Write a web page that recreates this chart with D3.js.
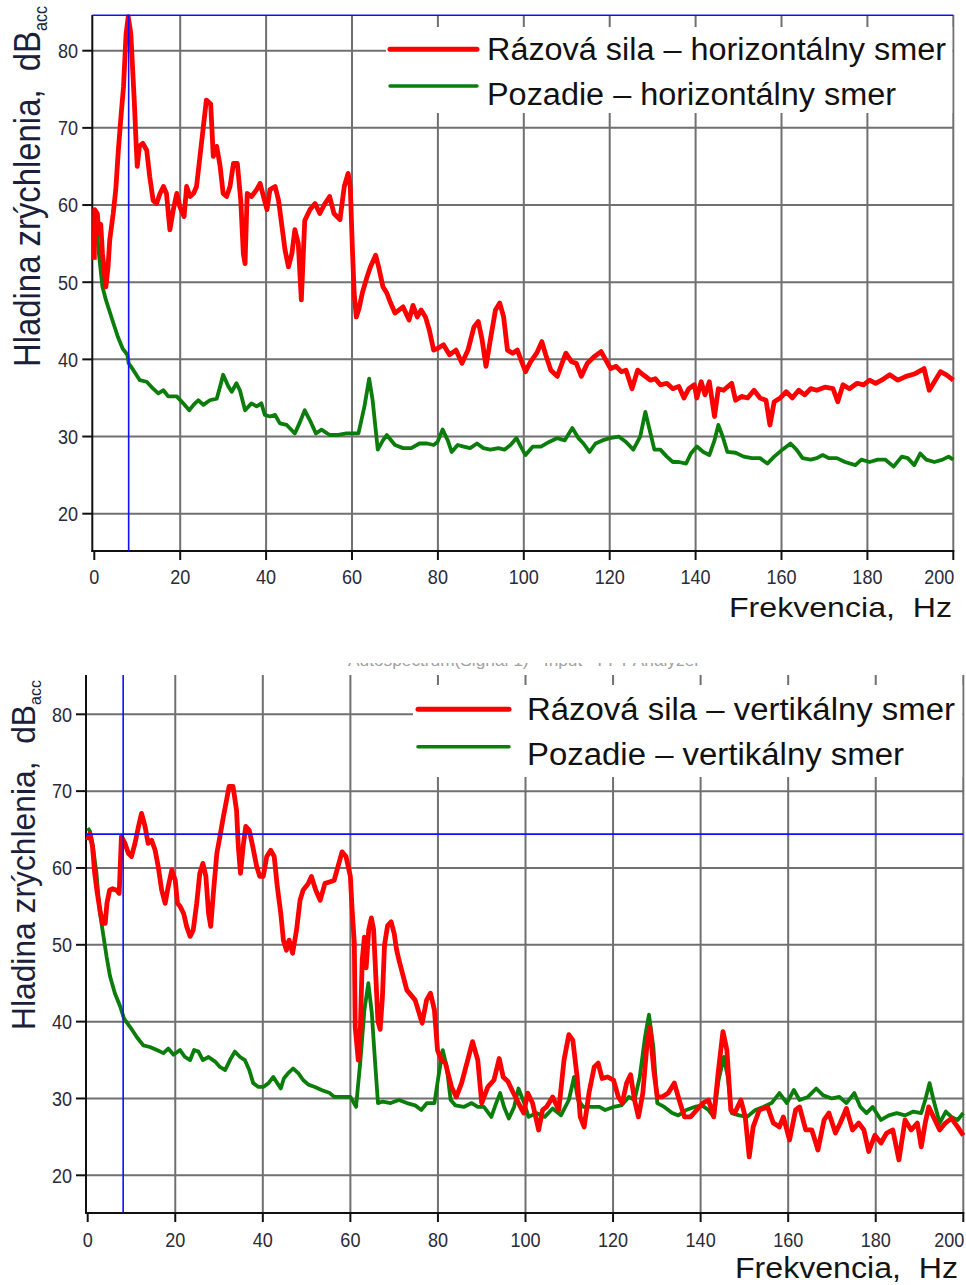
<!DOCTYPE html>
<html>
<head>
<meta charset="utf-8">
<script src="https://cdn.jsdelivr.net/npm/d3@7"></script>
<style>
  html, body { margin: 0; padding: 0; background: #fff; }
  svg { display: block; font-family: "Liberation Sans", Arial, sans-serif; }
</style>
</head>
<body>
<svg id="chart" width="966" height="1285"></svg>
<script>
// tick values and labels
const freqTicks = [0, 20, 40, 60, 80, 100, 120, 140, 160, 180, 200];
const dbTicks = [20, 30, 40, 50, 60, 70, 80];
const legendTop = ['Rázová sila – horizontálny smer', 'Pozadie – horizontálny smer'];
const legendBottom = ['Rázová sila – vertikálny smer', 'Pozadie – vertikálny smer'];
const xTitle = 'Frekvencia,  Hz';
const yTitle = 'Hladina zrýchlenia,  dB';
const yTitleSub = 'acc';
const faintTitle = 'Autospectrum(Signal 1) - Input - FFT Analyzer';

// cursor [Hz, dB]
const cursorTop = [8.0, 84.6];
const cursorBottom = [8.1, 64.4];

// [Hz, dB]
const razovaH = [[0,52.9],[0.1,59.4],[0.7,58.9],[1.1,56.3],[1.5,57.5],[1.9,53.7],[2.7,49.4],[3.2,52],[3.6,55.5],[4.4,58.9],[5.0,62],[5.6,67.1],[6.2,71.4],[6.8,75.3],[7.4,82.2],[7.9,84.4],[8.5,82.2],[8.9,77.9],[9.3,73.6],[9.7,68.4],[10.0,65],[10.5,67.6],[11.3,68],[12.2,67.1],[12.9,63.7],[13.7,60.6],[14.5,60.2],[15.3,61.5],[16.1,62.4],[16.8,61.5],[17.6,56.8],[18.4,59.4],[19.2,61.5],[19.9,59.8],[20.9,58.5],[21.5,62.4],[22.3,61.1],[23.1,61.5],[23.8,62.4],[24.6,66.3],[25.4,70.2],[26.1,73.6],[27.1,73.1],[27.7,66.3],[28.5,67.6],[29.3,65],[30.0,61.5],[30.8,61.1],[31.6,62.4],[32.4,65.4],[33.3,65.4],[34.1,60.6],[34.7,53.7],[35.1,52.4],[35.6,61.5],[36.6,61.1],[37.8,62],[38.6,62.8],[39.4,61.1],[40.2,59.4],[40.9,62],[42.1,62.4],[42.9,60.6],[43.7,57.2],[44.4,54.2],[45.2,52],[46.0,53.7],[46.7,56.8],[47.5,55],[48.2,47.7],[49.0,58],[50.2,59.4],[51.4,60.2],[52.5,58.9],[53.7,60.2],[54.8,61.1],[55.8,58.9],[57.2,58.1],[58.2,62.4],[59.1,64.1],[59.6,62.4],[60.1,54.2],[60.5,48.6],[61.0,45.5],[61.6,46.5],[62.4,48.6],[63.4,50.5],[64.3,52],[65.5,53.5],[66.2,52],[67.2,49.4],[68.1,48.6],[69,47.3],[70,46],[71.9,46.8],[73.3,45.1],[74.2,47],[75.2,45.5],[76.1,46.4],[77.1,45.5],[78,43.8],[79,41.2],[79.9,41.4],[81.3,41.9],[82.7,40.6],[84.2,41.2],[85.6,39.5],[87,41.2],[88.4,44.2],[89.4,44.9],[90.3,42.5],[91.2,39.1],[92.2,42.5],[93.4,46.4],[94.4,47.3],[95.3,45.5],[96.2,41.2],[97.4,40.8],[98.5,41.2],[99.5,39.7],[100.4,38.4],[101.6,39.7],[103.0,40.8],[104.2,42.3],[105.1,40.6],[106.3,38.6],[107.8,37.8],[108.9,39.5],[109.8,40.8],[111.1,39.7],[112.2,39.5],[113.4,37.8],[114.8,39.5],[116.3,40.3],[118,41],[119.1,39.9],[120.2,38.8],[121.5,39.1],[122.7,38.4],[123.8,38.6],[125.2,36.2],[126.5,38.6],[127.8,38],[129.5,37.3],[130.6,37.5],[131.8,36.7],[133.3,36.9],[134.7,36.2],[136.1,36.5],[137.3,35],[138.4,36.2],[139.7,36.7],[140.3,35],[141.3,37.1],[142.2,35.4],[143.2,37.1],[144.4,32.6],[145.3,36.2],[146.5,36],[148.4,36.9],[149.3,34.7],[150.7,35.2],[152.1,35],[153.6,36],[155,35],[156.4,34.7],[157.3,31.5],[158.3,34.5],[159.7,35],[161.1,35.8],[162.5,35],[164,36],[165.4,35.4],[166.8,36.2],[168.2,36],[170.1,36.4],[172,36.2],[173.1,34.5],[174.3,36.7],[175.8,36.2],[177.6,36.9],[179.1,36.7],[180.5,37.3],[181.9,36.9],[183.3,37.3],[185.2,38],[187.1,37.3],[189,37.8],[190.9,38.1],[193.2,38.8],[194.4,36],[195.6,37.1],[197,38.4],[198.4,38],[200,37.3]];

const pozadieH = [[0,58.5],[0.5,57],[1.2,53],[1.9,49.4],[2.7,47.7],[4.2,45.1],[5.5,42.9],[6.6,41.4],[7.7,40.6],[8.0,39.5],[9.1,38.6],[10.6,37.3],[12.2,37.1],[13.7,36.2],[14.9,35.6],[16.1,36],[17.2,35.2],[19.2,35.2],[20.7,34.3],[22.1,33.4],[23.1,34.1],[24.2,34.7],[25.4,34.1],[26.9,34.7],[28.5,34.9],[29.3,36.5],[30.0,38],[31.2,36.5],[32,35.8],[33.1,36.9],[33.9,36],[35.1,33.4],[36.6,34.3],[37.8,33.9],[38.9,34.3],[39.7,32.8],[40.9,32.6],[42.1,32.8],[43.2,31.7],[44.8,31.5],[46.7,30.4],[47.9,31.9],[49,33.4],[50.2,32.1],[51.6,30.4],[52.9,30.9],[54.8,30.2],[56.8,30.2],[58.7,30.4],[61.5,30.4],[62.9,33.9],[64.0,37.5],[64.8,34.7],[66,28.3],[67.2,29.5],[68.1,30.2],[70,28.9],[71.9,28.5],[73.8,28.5],[75.7,29.1],[77.5,29.1],[79,28.9],[79.9,29.3],[81.1,30.9],[82.3,29.5],[83.2,28],[84.6,28.9],[86,28.7],[87.5,28.5],[89.1,29.1],[90.6,28.5],[92.2,28.3],[94.1,28.5],[95.5,28.3],[96.9,28.9],[98.3,29.8],[99.3,28.7],[100.4,27.6],[102.1,28.7],[104,28.7],[105.9,29.3],[107.8,29.8],[109.5,29.5],[111.3,31.1],[112.7,29.8],[113.9,29.1],[115.3,28],[116.7,29.1],[118.3,29.5],[120,29.8],[122.1,30],[123.8,29.3],[125.5,28.3],[127.1,30],[128.3,33.2],[129.5,30.4],[130.4,28.3],[131.8,28.3],[133.3,27.4],[134.7,26.7],[136.1,26.7],[137.8,26.5],[138.9,27.8],[140.3,28.7],[141.8,28],[143.2,27.6],[144.4,29.5],[145.3,31.5],[146.3,30],[147.4,28],[149.3,27.9],[151.2,27.4],[153.1,27.2],[155,27.2],[156.7,26.5],[158.3,27.4],[160.2,28.3],[162.1,29.1],[163.5,28.3],[164.9,27.2],[166.8,27],[168.2,27.2],[169.6,27.6],[171,27.2],[172.9,27.2],[174.8,26.7],[177.2,26.3],[178.6,27],[180.5,26.7],[182.4,27],[184.2,27],[186.1,26.1],[188,27.4],[189.4,27.2],[190.9,26.3],[192.3,27.8],[193.7,27],[195.6,26.7],[197.5,27],[198.9,27.4],[200,27]];

const razovaV = [[0,63.6],[0.5,64.5],[1.1,62.8],[1.6,59.3],[2.2,56.7],[2.8,54.5],[3.4,52.8],[4.0,52.8],[4.4,55.4],[5.0,57.1],[5.7,57.3],[6.6,57.1],[7.2,56.7],[7.7,64.1],[8.5,63.2],[9.3,61.9],[10.0,61.5],[10.8,63.2],[11.6,65.4],[12.3,67.1],[13.1,65.4],[13.8,63.2],[14.6,63.6],[15.4,62.3],[16.1,60.2],[16.9,57.1],[17.7,55.4],[18.4,57.6],[19.2,59.7],[20.0,58.4],[20.5,55.4],[21.1,55],[21.9,54.1],[22.6,52.4],[23.4,51.1],[24.1,51.9],[24.9,55.4],[25.6,59.3],[26.3,60.6],[27.0,58.9],[27.6,54.1],[28.1,52.4],[28.7,56.7],[29.5,61.9],[30.2,64.1],[31.0,66.7],[31.7,68.8],[32.3,70.6],[33.2,70.6],[34.0,67.5],[34.4,62.8],[34.9,59.3],[35.5,62.8],[36.1,65.4],[36.9,64.9],[37.7,62.8],[38.6,60.2],[39.3,58.9],[40.1,58.9],[40.9,61.5],[41.8,62.3],[42.6,61.5],[43.3,57.6],[44.1,54.1],[44.7,50.6],[45.4,49.3],[46.0,50.6],[46.8,48.9],[47.7,51.9],[48.5,55.8],[49.2,57.1],[50.4,58],[51.1,58.9],[52.1,57.1],[53.1,55.8],[54.2,58],[55.4,58.2],[56.3,58.4],[58.1,62.1],[59,61.5],[60,58.9],[60.4,54.5],[60.9,50.2],[61.1,39.3],[61.8,35],[62.3,39.3],[62.7,48],[63.2,51],[63.6,47],[64.2,52],[64.8,53.5],[65.3,52],[65.8,46],[66.3,40],[66.8,39],[67.3,43],[67.8,50],[68.5,52.5],[69.3,53],[70,51.5],[70.5,49.5],[71.1,48],[72.9,44.1],[74.8,42.8],[76.4,39.8],[77.4,42.8],[78.3,43.7],[79.2,41.5],[79.9,36.3],[80.8,35],[81.7,34.6],[83.1,31.5],[84.2,30.2],[85.4,32],[86.8,35],[87.9,37.4],[89.1,35],[90.0,29.4],[91.4,31.5],[92.8,32.4],[94,35.2],[94.9,32.8],[96.0,32.2],[96.9,31.1],[98.4,29.4],[99.6,28.1],[100.5,30.7],[101.6,29.4],[103,25.9],[103.9,28.5],[104.8,28.9],[106.2,30.2],[107.6,28.5],[108.8,35],[109.9,38.3],[110.8,37.6],[111.8,32.8],[112.5,27.6],[113.4,26.3],[114.5,30.7],[115.7,34.1],[116.6,34.6],[117.5,32.6],[118.7,32.8],[120.1,32.4],[121.2,30.2],[122.1,29.4],[123.1,32],[124,33.1],[124.9,29.8],[125.8,27.6],[126.8,30.7],[127.7,36.7],[128.4,39.3],[129.3,33.7],[130.1,30.2],[131.2,30.2],[132.6,30.7],[134,32],[135.1,29.8],[136.3,27.6],[137.7,27.6],[139.1,28.5],[140.5,29.4],[141.8,29.8],[143.0,27.6],[144.0,33.3],[145.1,38.7],[146,36.3],[146.9,28.5],[147.8,28.1],[149.2,29.8],[150.2,27.6],[151.1,22.4],[152,26.3],[153.4,28.5],[155.3,28.9],[156.6,26.8],[158,26.3],[158.9,27.6],[160.3,24.6],[161.7,28.5],[162.6,28.9],[164,25.9],[165.4,25.9],[166.8,23.3],[168.2,27.2],[169.3,28.1],[170.8,25.5],[171.9,26.8],[173.3,28.7],[174.7,25.9],[176.1,26.8],[177.3,25.9],[178.4,23.1],[179.8,25.2],[181.2,24.2],[182.5,25.5],[183.9,25.9],[185.3,22],[186.7,27.2],[188.1,25.9],[189.5,26.8],[190.4,23.7],[191.3,26.8],[192.1,28.9],[193.2,27.6],[194.6,25.9],[195.9,26.8],[197.3,27.4],[198.7,26.3],[200,25.2]];

const pozadieV = [[0,65.2],[0.5,64.8],[1.2,62.8],[2,59.3],[2.8,54.1],[3.5,51.5],[4.3,48.5],[5.1,45.9],[6.2,43.7],[7.4,42],[8.3,40.4],[9.7,39.3],[11.2,38],[12.7,36.9],[14.2,36.7],[15.8,36.3],[17.3,35.9],[18.4,36.5],[19.6,35.7],[21.1,36.3],[22.2,35.4],[23.4,35],[24.3,36.3],[25.3,36.1],[26.3,35],[27.6,35.4],[29.1,34.8],[30.2,34.1],[31.4,33.7],[32.5,35],[33.6,36.1],[34.8,35.4],[35.9,35],[36.9,33.7],[37.8,32],[39.0,31.5],[40.1,31.5],[41.3,32],[42.4,32.8],[43.3,32],[44.1,31.3],[44.8,32.6],[45.8,33.3],[46.9,33.9],[48.1,33.3],[49.2,32.4],[50.4,31.8],[51.9,31.5],[53.4,31.1],[55.3,30.7],[56.3,30.2],[58.1,30.2],[60,30.2],[61.3,28.9],[62.3,35],[63.2,41.5],[64.1,45],[64.9,41.1],[65.5,35.9],[66.3,29.4],[67.4,29.6],[69.2,29.4],[71.1,29.8],[72.9,29.4],[74.8,29.1],[76.2,28.5],[77.5,29.4],[79.2,29.4],[80.1,32.8],[81.1,36.3],[82,34.1],[82.9,29.8],[84,29.1],[85.9,28.9],[87.7,29.4],[89.1,28.9],[90.5,28.9],[92.2,27.6],[93.3,29.4],[94.2,30.7],[95.1,28.9],[96.2,27.4],[97.4,28.9],[98.4,31.3],[99.7,29.4],[100.7,27.6],[102.5,28.1],[104.4,27.6],[106.2,28.7],[108.1,27.8],[109.9,29.8],[111.1,32.8],[112,29.8],[113.2,28.9],[115,28.9],[116.9,28.9],[118.2,28.5],[120.1,28.9],[121.9,29.1],[123.6,30.2],[124.9,29.8],[126.1,32.8],[127.3,38],[128.2,40.9],[129.2,36.7],[130.1,29.4],[131.7,28.9],[133.5,28.1],[134.9,27.8],[136.7,28.5],[138.6,28.9],[140.3,29.1],[141.8,28.5],[143,27.6],[144.1,32.4],[145.3,35.4],[146.2,32.8],[147.1,28.1],[148.8,27.8],[150.6,27.6],[152.5,28.5],[154.3,28.9],[156.2,29.4],[158,30.7],[159.7,29.4],[161.3,31.1],[162.6,29.8],[164.5,30.2],[166.4,31.3],[168,30.4],[170,30],[171.7,30.2],[173.3,29.4],[175.1,30.7],[176.5,28.9],[177.9,28.1],[179.3,28.9],[181.2,27.2],[183,27.8],[184.8,28.1],[186.7,27.8],[188.6,28.3],[190.4,28.1],[191.3,29.8],[192.3,32],[193.2,29.8],[194.6,26.8],[196,28.3],[197.3,27.6],[198.7,27.2],[200,28.1]];

const RED = '#ff0000';
const GREEN = '#0b7d0b';
const BLUE = '#1010ff';
const GRID = '#707070';

const svg = d3.select('svg#chart');

function drawChart(c) {
  const x = d3.scaleLinear().domain([0, 200]).range([c.x0, c.x200]);
  const y = d3.scaleLinear().domain([20, 80]).range([c.y20, c.y80]);
  const g = svg.append('g');

  // grid
  g.selectAll('line.vgrid')
    .data(freqTicks.filter(d => d > 0))
    .join('line')
    .attr('x1', d => x(d)).attr('x2', d => x(d))
    .attr('y1', c.top).attr('y2', c.bottom)
    .attr('stroke', GRID).attr('stroke-width', 2);

  g.selectAll('line.hgrid')
    .data(dbTicks)
    .join('line')
    .attr('x1', c.left).attr('x2', x(200))
    .attr('y1', d => y(d)).attr('y2', d => y(d))
    .attr('stroke', GRID).attr('stroke-width', 2);

  // legend box hides the grid behind it, the right border stays
  g.append('rect')
    .attr('x', c.legend.box[0]).attr('y', c.legend.box[1])
    .attr('width', x(200) - 1 - c.legend.box[0])
    .attr('height', c.legend.box[2] - c.legend.box[1])
    .attr('fill', '#fff');

  // axes
  g.append('line')
    .attr('x1', c.left).attr('x2', c.left)
    .attr('y1', c.top).attr('y2', c.bottom + 1)
    .attr('stroke', '#111').attr('stroke-width', 2);
  g.append('line')
    .attr('x1', c.left - 1).attr('x2', x(200) + 1)
    .attr('y1', c.bottom).attr('y2', c.bottom)
    .attr('stroke', '#111').attr('stroke-width', 2);

  g.selectAll('line.ytick')
    .data(dbTicks)
    .join('line')
    .attr('x1', c.left - 10).attr('x2', c.left)
    .attr('y1', d => y(d)).attr('y2', d => y(d))
    .attr('stroke', '#111').attr('stroke-width', 2);

  g.selectAll('line.xtick')
    .data(freqTicks)
    .join('line')
    .attr('x1', d => x(d)).attr('x2', d => x(d))
    .attr('y1', c.bottom).attr('y2', c.bottom + 9)
    .attr('stroke', '#111').attr('stroke-width', 2);

  // tick labels
  g.selectAll('text.xlab')
    .data(freqTicks)
    .join('text')
    .attr('transform', d => 'translate(' + (d === 200 ? x(d) + 1 : x(d)) + ',' + c.xLabelBase + ') scale(0.88,1)')
    .attr('text-anchor', d => d === 200 ? 'end' : 'middle')
    .attr('font-size', '20.5px')
    .attr('fill', '#2b2b38')
    .text(d => d);

  g.selectAll('text.ylab')
    .data(dbTicks)
    .join('text')
    .attr('transform', d => 'translate(' + c.yLabelRight + ',' + (y(d) + 7.3) + ') scale(0.88,1)')
    .attr('text-anchor', 'end')
    .attr('font-size', '20.5px')
    .attr('fill', '#2b2b38')
    .text(d => d);

  // series
  const line = d3.line().x(d => x(d[0])).y(d => y(d[1]));
  g.append('path')
    .datum(c.green)
    .attr('d', line)
    .attr('fill', 'none')
    .attr('stroke', GREEN).attr('stroke-width', 3.8)
    .attr('stroke-linejoin', 'round');
  g.append('path')
    .datum(c.red)
    .attr('d', line)
    .attr('fill', 'none')
    .attr('stroke', RED).attr('stroke-width', 4.8)
    .attr('stroke-linejoin', 'round');

  // cursors
  g.append('line')
    .attr('x1', c.left).attr('x2', x(200))
    .attr('y1', y(c.cursor[1])).attr('y2', y(c.cursor[1]))
    .attr('stroke', BLUE).attr('stroke-width', 1.6);
  g.append('line')
    .attr('x1', x(c.cursor[0])).attr('x2', x(c.cursor[0]))
    .attr('y1', c.top).attr('y2', c.bottom)
    .attr('stroke', BLUE).attr('stroke-width', 1.6);

  // legend
  const L = c.legend;
  [RED, GREEN].forEach((col, i) => {
    g.append('line')
      .attr('x1', L.lineX[0]).attr('x2', L.lineX[1])
      .attr('y1', L.lineY[i]).attr('y2', L.lineY[i])
      .attr('stroke', col).attr('stroke-width', i === 0 ? 5 : 3.5)
      .attr('stroke-linecap', 'round');
    g.append('text')
      .attr('x', L.textX).attr('y', L.base[i])
      .attr('font-size', '31px')
      .attr('fill', '#111')
      .attr('textLength', L.len[i])
      .attr('lengthAdjust', 'spacingAndGlyphs')
      .text(L.labels[i]);
  });

  // x title
  g.append('text')
    .attr('x', c.xTitle[0]).attr('y', c.xTitle[1])
    .attr('font-size', c.xTitle[3] + 'px')
    .attr('fill', '#141414')
    .attr('textLength', c.xTitle[2])
    .attr('lengthAdjust', 'spacingAndGlyphs')
    .style('white-space', 'pre')
    .text(xTitle);

  // y title
  const yt = g.append('text')
    .attr('transform', 'translate(' + c.yTitle[0] + ',' + c.yTitle[1] + ') scale(' + c.yTitle[3] + ',1) rotate(-90)')
    .attr('fill', '#1b1f3a')
    .style('white-space', 'pre');
  yt.append('tspan')
    .attr('font-size', '33px')
    .attr('textLength', c.yTitle[2])
    .attr('lengthAdjust', 'spacingAndGlyphs')
    .text(yTitle);
  yt.append('tspan')
    .attr('font-size', '16px')
    .attr('dy', 6)
    .text(yTitleSub);
}

drawChart({
  x0: 94.3, x200: 953.3, y80: 50.7, y20: 513.7,
  left: 92.3, top: 15, bottom: 551,
  xLabelBase: 583.5, yLabelRight: 78,
  red: razovaH, green: pozadieH, cursor: cursorTop,
  legend: { box: [386, 27, 113], lineX: [390, 477], lineY: [49.3, 86],
            textX: 487, base: [59.5, 104.5], len: [459, 409], labels: legendTop },
  xTitle: [729, 617, 223, 28],
  yTitle: [40, 367, 336, 1.14]
});

drawChart({
  x0: 87.7, x200: 963.3, y80: 714.3, y20: 1175.3,
  left: 86, top: 675, bottom: 1213,
  xLabelBase: 1246.5, yLabelRight: 72,
  red: razovaV, green: pozadieV, cursor: cursorBottom,
  legend: { box: [413, 685, 777], lineX: [418, 509], lineY: [709.3, 746.7],
            textX: 527, base: [719.5, 765], len: [428, 377], labels: legendBottom },
  xTitle: [735, 1278, 223, 29],
  yTitle: [35, 1030, 325, 1.0]
});

// half hidden title strip above the lower chart
svg.append('clipPath').attr('id', 'strip')
  .append('rect').attr('x', 340).attr('y', 663).attr('width', 380).attr('height', 9);
svg.append('text')
  .attr('clip-path', 'url(#strip)')
  .attr('x', 348).attr('y', 666)
  .attr('font-size', '16px')
  .attr('fill', '#a0a0a0')
  .attr('textLength', 352)
  .attr('lengthAdjust', 'spacingAndGlyphs')
  .text(faintTitle);
</script>
</body>
</html>
